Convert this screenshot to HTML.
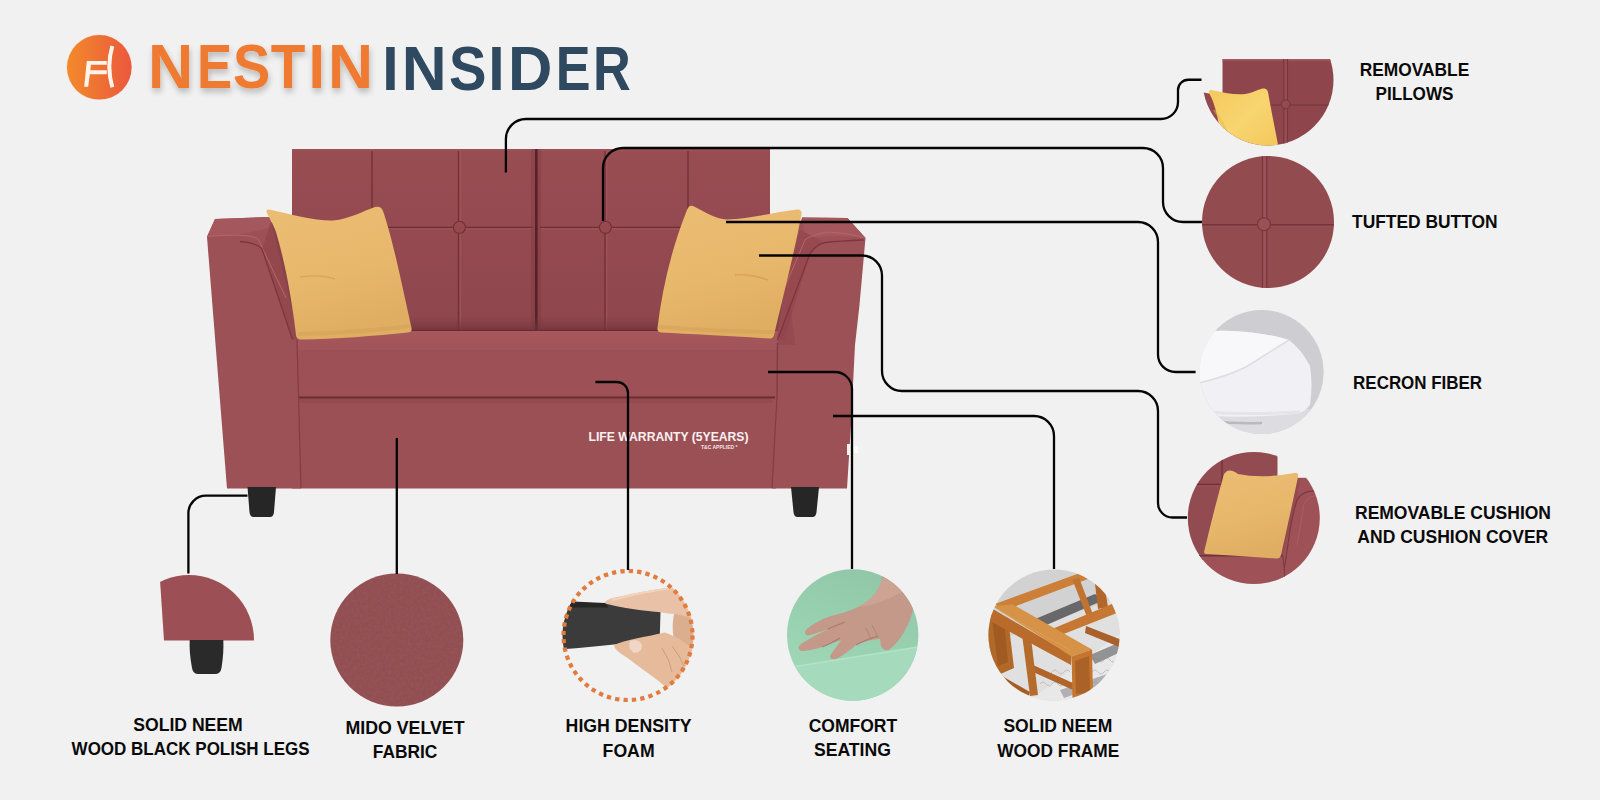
<!DOCTYPE html>
<html>
<head>
<meta charset="utf-8">
<style>
html,body{margin:0;padding:0;}
body{width:1600px;height:800px;overflow:hidden;background:#f1f1f1;position:relative;font-family:"Liberation Sans",sans-serif;}
svg{position:absolute;left:0;top:0;}
.lbl{font-family:"Liberation Sans",sans-serif;font-weight:bold;font-size:18.2px;fill:#0a0a0a;}
</style>
</head>
<body>
<svg width="1600" height="800" viewBox="0 0 1600 800">
<defs>
  <linearGradient id="logoG" x1="0" y1="0" x2="1" y2="0">
    <stop offset="0" stop-color="#f38a2b"/>
    <stop offset="1" stop-color="#ea583d"/>
  </linearGradient>
  <filter id="tshadow" x="-10%" y="-20%" width="120%" height="150%">
    <feGaussianBlur in="SourceAlpha" stdDeviation="3.2"/>
    <feOffset dx="1" dy="3.5" result="b"/>
    <feComponentTransfer><feFuncA type="linear" slope="0.24"/></feComponentTransfer>
    <feMerge><feMergeNode/><feMergeNode in="SourceGraphic"/></feMerge>
  </filter>
</defs>

<!-- LOGO -->
<g id="logo">
  <circle cx="99.3" cy="67.3" r="32.8" fill="#fbd9c0" opacity="0.6"/>
  <circle cx="99.3" cy="67.3" r="32.3" fill="url(#logoG)"/>
  <path d="M84.2,86.8 L88.2,86.8 L89.8,74.2 L106.8,74.2 L106.8,70.3 L90.3,70.3 L91,64.8 L106.8,64.8 L106.8,61 L86.8,61 Z" fill="#fff4ec"/>
  <path d="M112.3,46 Q106.3,66.5 112.3,87.2" fill="none" stroke="#fff4ec" stroke-width="4"/>
</g>
<g filter="url(#tshadow)" font-family="Liberation Sans" font-weight="bold" fill="#ef7a33">
<text transform="translate(147.91,87.9) scale(0.9810,1)" font-size="63.81">N</text>
<text transform="translate(196.97,87.9) scale(0.8268,1)" font-size="63.81">E</text>
<text transform="translate(232.99,87.9) scale(0.8763,1)" font-size="63.81">S</text>
<text transform="translate(270.86,87.9) scale(0.8889,1)" font-size="63.81">T</text>
<text transform="translate(308.41,87.9) scale(0.9357,1)" font-size="63.81">I</text>
<text transform="translate(328.12,87.9) scale(0.9783,1)" font-size="63.81">N</text>
</g>
<g font-family="Liberation Sans" font-weight="bold" fill="#2e4960">
<text transform="translate(382.15,89.8) scale(0.9290,1)" font-size="63.52">I</text>
<text transform="translate(401.84,89.8) scale(0.9788,1)" font-size="63.52">N</text>
<text transform="translate(449.08,89.8) scale(0.8856,1)" font-size="63.52">S</text>
<text transform="translate(488.15,89.8) scale(0.9290,1)" font-size="63.52">I</text>
<text transform="translate(507.89,89.8) scale(0.9678,1)" font-size="63.52">D</text>
<text transform="translate(555.81,89.8) scale(0.8222,1)" font-size="63.52">E</text>
<text transform="translate(593.00,89.8) scale(0.8234,1)" font-size="63.52">R</text>
</g>

<!-- SOFA placeholder -->

<g id="sofa">
  <defs>
    <linearGradient id="backG" x1="0" y1="0" x2="0" y2="1">
      <stop offset="0" stop-color="#984d53"/>
      <stop offset="0.5" stop-color="#93494f"/>
      <stop offset="1" stop-color="#8d454c"/>
    </linearGradient>
    <linearGradient id="seatTopG" x1="0" y1="0" x2="0" y2="1">
      <stop offset="0" stop-color="#a7585d"/>
      <stop offset="1" stop-color="#a05358"/>
    </linearGradient>
    <linearGradient id="backShadeG" x1="0" y1="0" x2="0" y2="1">
      <stop offset="0" stop-color="#7a3a40" stop-opacity="0"/>
      <stop offset="1" stop-color="#6e3238" stop-opacity="0.8"/>
    </linearGradient>
    <linearGradient id="pilG" x1="0" y1="0" x2="0.3" y2="1">
      <stop offset="0" stop-color="#ebbd72"/>
      <stop offset="0.6" stop-color="#e7b76c"/>
      <stop offset="1" stop-color="#dfae62"/>
    </linearGradient>
  </defs>
  <!-- back panel -->
  <rect x="262" y="222" width="545" height="127" fill="#8a424a"/>
  <rect x="292" y="149" width="478" height="200" fill="url(#backG)"/>
  <rect x="292" y="149" width="478" height="2" fill="#a05359" opacity="0.7"/>
  <!-- back seams -->
  <g stroke="#6f3037" stroke-width="1.3" fill="none">
    <path d="M372,151 V330"/>
    <path d="M458.5,151 V330"/>
    <path d="M605,151 V330"/>
    <path d="M688,151 V330"/>
    <path d="M300,227.3 H533 M540,227.3 H765"/>
  </g>
  <g stroke="#a95b61" stroke-width="0.9" fill="none" opacity="0.8">
    <path d="M460.3,151 V330"/>
    <path d="M606.8,151 V330"/>
    <path d="M300,229 H533 M540,229 H765"/>
  </g>
  <rect x="531" y="149" width="10" height="182" fill="#7a363d" opacity="0.35"/>
  <rect x="535" y="149" width="2.6" height="182" fill="#55222a"/>
  <rect x="292" y="316" width="478" height="15" fill="url(#backShadeG)"/>
  <path d="M292,330.5 H770" stroke="#6a2c33" stroke-width="1.5"/>
  <circle cx="459.4" cy="227.3" r="6" fill="#96494f" stroke="#6f3037" stroke-width="1.1"/>
  <circle cx="605.4" cy="227.3" r="6" fill="#96494f" stroke="#6f3037" stroke-width="1.1"/>

  <!-- seat cushion -->
  <rect x="290" y="331" width="492" height="66" fill="#9d5156"/>
  <rect x="294" y="331" width="484" height="18" fill="url(#seatTopG)"/>
  <path d="M296,349 H776" stroke="#a9595e" stroke-width="1" opacity="0.8"/>
  <!-- base -->
  <rect x="292" y="397" width="484" height="91.5" fill="#9b5055"/>
  <path d="M294,397.5 H778" stroke="#6a2d33" stroke-width="2.2"/>
  <rect x="300" y="399" width="472" height="4" fill="#8e434a" opacity="0.5"/>

  <!-- left arm -->
  <path d="M215,219 L270,217 L297,340 L301,488.5 L227,488.5 L207,237 Z" fill="#9c5156"/>
  <path d="M215,219 L270,217 L272,226 Q262,233 207,236.5 Z" fill="#a4585d"/>
  <path d="M262,249 L292.5,339.5 L299,339.5 L271,221 Q266,238 262,249 Z" fill="#93484e"/>
  <path d="M207,236.5 Q250,233 258,239 L286,298" fill="none" stroke="#b7656b" stroke-width="1"/>
  <path d="M240,241.5 Q257,243 262,249 L292.5,339.5" fill="none" stroke="#7d363d" stroke-width="1.3"/>
  <path d="M297,340 L301,488" stroke="#843c43" stroke-width="1.2"/>

  <!-- right arm -->
  <path d="M802,217.5 L847.5,218 L865.5,238 L859.5,305 L855,345 L851,425 L847,488.5 L772,488.5 L777,340 Q786,270 802,217.5 Z" fill="#9c5156"/>
  <path d="M802,217.5 L847.5,218 L865.5,238 Q830,233 806,240 Z" fill="#a4585d"/>
  <path d="M777,340 L784,340 L810,253.75 Q818,243 825,242.5 L800,230 Q786,270 777,340 Z" fill="#96494f"/>
  <path d="M777,345 L790,300 L795,345 Z" fill="#8a4349" opacity="0.5"/>
  <path d="M865,237.5 Q830,230 822,233 Q810,236 805,240 L785,287" fill="none" stroke="#b7656b" stroke-width="1"/>
  <path d="M863.75,240 Q838,241 825,242.5 Q815,245 810,253.75 L777.5,340" fill="none" stroke="#7d363d" stroke-width="1.3"/>
  <path d="M772,488 L777,397" stroke="#843c43" stroke-width="1.2"/>
  <path d="M777.5,343 L777,397" stroke="#7d3a40" stroke-width="1.2"/>

  <!-- legs -->
  <path d="M247.5,487 H276 L274,512 Q273.5,517 270,517 H253.5 Q250,517 249.5,512 Z" fill="#262626"/>
  <path d="M791,487 H819 L816.5,512 Q816,517 812.5,517 H797.5 Q794,517 793.5,512 Z" fill="#262626"/>

  <!-- left pillow -->
  <path d="M269,209.5 C290,214 315,221 333,220.5 C350,219 363,211 375,207 Q381,205.5 383,211 C393,240 402,285 411.5,328 Q412.5,332 408,332.5 C375,336 335,339 301,339.5 Q296.5,339.5 296,335 C292,300 285,262 276,232 C273,223 268,216 266.5,212 Q266,209 269,209.5 Z" fill="url(#pilG)"/>
  <path d="M298,334 C340,333 380,330 411,326" stroke="#cf9c4d" stroke-width="4" fill="none" opacity="0.35"/>
  <path d="M300,277 Q320,274 335,279" stroke="#c99649" stroke-width="1.5" fill="none" opacity="0.5"/>
  <!-- right pillow -->
  <path d="M693,206 C705,212 715,219 727,219.5 C750,219 775,212 797,209.5 Q802,209 801.5,214 C797,240 786,285 774,335 Q773,339 769,338.5 C730,336 690,334 661,332.5 Q657,332 657.5,328 C662,290 671,250 687,210 Q689,204.5 693,206 Z" fill="url(#pilG)"/>
  <path d="M659,327 C700,330 740,332 775,332" stroke="#cf9c4d" stroke-width="4" fill="none" opacity="0.35"/>
  <path d="M735,275 Q752,274 768,280" stroke="#c99649" stroke-width="1.5" fill="none" opacity="0.5"/>

  <!-- warranty text -->
  <text x="588.5" y="441.3" font-family="Liberation Sans" font-weight="bold" font-size="12.8" fill="#fbf2f2" textLength="160" lengthAdjust="spacingAndGlyphs">LIFE WARRANTY (5YEARS)</text>
  <text x="701" y="449.2" font-family="Liberation Sans" font-weight="bold" font-size="5.8" fill="#f4e3e4" textLength="36.5" lengthAdjust="spacingAndGlyphs">T&amp;C APPLIED *</text>
  <path d="M847,444 H853 V455 H847 Z" fill="#f6f2f2"/><path d="M854,446 H858 V453 H854 Z" fill="#ffffff" opacity="0.8"/>
</g>

<!-- CIRCLES placeholder -->
<g id="circles">
  <defs>
    <clipPath id="cp1"><path d="M1202.5,80 A65.5,65.5 0 0 0 1333.5,80 A65.5,65.5 0 0 0 1202.5,80 Z M1190,59 H1345 V0 H1190 Z" clip-rule="nonzero"/></clipPath>
    <clipPath id="cp1b"><rect x="1190" y="59" width="160" height="100"/></clipPath>
    <clipPath id="cp2"><circle cx="1268" cy="222" r="66"/></clipPath>
    <clipPath id="cp3"><circle cx="1261.6" cy="372" r="62"/></clipPath>
    <clipPath id="cp4"><circle cx="1253.8" cy="518" r="66"/></clipPath>
    <clipPath id="cp5"><circle cx="189" cy="640" r="65"/></clipPath>
    <clipPath id="cp7"><circle cx="628" cy="635.5" r="65.5"/></clipPath>
    <clipPath id="cp8"><circle cx="852.7" cy="635" r="65.7"/></clipPath>
    <clipPath id="cp9"><circle cx="1054" cy="635" r="65.6"/></clipPath>
    <linearGradient id="greenG" x1="0.7" y1="0" x2="0.3" y2="1">
      <stop offset="0" stop-color="#90c6a7"/>
      <stop offset="0.5" stop-color="#98d1b0"/>
      <stop offset="1" stop-color="#a2d9b9"/>
    </linearGradient>
    <linearGradient id="yelG" x1="0" y1="0" x2="1" y2="1">
      <stop offset="0" stop-color="#f4c85c"/>
      <stop offset="0.5" stop-color="#f8d570"/>
      <stop offset="1" stop-color="#f2c65a"/>
    </linearGradient>
    <linearGradient id="fibG" x1="0" y1="0" x2="1" y2="1">
      <stop offset="0" stop-color="#c9c9cd"/>
      <stop offset="1" stop-color="#dcdce0"/>
    </linearGradient>
    <linearGradient id="skinG" x1="0" y1="0" x2="1" y2="1">
      <stop offset="0" stop-color="#d9a58e"/>
      <stop offset="1" stop-color="#c08472"/>
    </linearGradient>
  </defs>

  <!-- 1 removable pillows -->
  <clipPath id="cp1"><circle cx="1268" cy="80" r="65.5"/></clipPath>
  <g clip-path="url(#cp1b)"><g clip-path="url(#cp1)">
    <rect x="1222.5" y="59.3" width="115" height="90" fill="#8f454c"/>
    <rect x="1222.5" y="59.3" width="115" height="2" fill="#9d5056"/>
    <path d="M1222.5,105 H1340" stroke="#74363c" stroke-width="1.2"/>
    <path d="M1283.8,59 V150 M1287.6,59 V150" stroke="#74363c" stroke-width="1"/>
    <path d="M1285.7,59 V150" stroke="#9a5056" stroke-width="1.8"/>
    <circle cx="1285.7" cy="104.3" r="4.4" fill="#944b51" stroke="#74363c" stroke-width="1"/>
    <path d="M1200,92 L1212,94 L1232,150 L1200,150 Z" fill="#93484e"/>
    <path d="M1211,90 C1225,93 1240,96 1250,93 C1256,91 1260,88.5 1264,88.5 Q1267,88.5 1268,92 C1271,110 1275,128 1279,150 L1222,150 C1220,125 1216,105 1209,93 Q1208,90 1211,90 Z" fill="url(#yelG)"/>
    <path d="M1214,110 Q1225,125 1235,150" stroke="#e6b24a" stroke-width="2" fill="none" opacity="0.5"/>
  </g></g>

  <!-- 2 tufted button -->
  <g clip-path="url(#cp2)">
    <rect x="1200" y="155" width="136" height="134" fill="#924c50"/>
    <path d="M1200,224.8 H1336" stroke="#74363c" stroke-width="1.4"/>
    <path d="M1200,226.6 H1336" stroke="#a05459" stroke-width="0.8" opacity="0.6"/>
    <path d="M1262.4,155 V289 M1266.8,155 V289" stroke="#74363c" stroke-width="1.1"/>
    <path d="M1264.6,155 V289" stroke="#9c5257" stroke-width="2.2"/>
    <circle cx="1264" cy="224.3" r="6.5" fill="#985156" stroke="#74363c" stroke-width="1.1"/>
  </g>

  <!-- 3 recron fiber -->
  <g clip-path="url(#cp3)">
    <rect x="1195" y="305" width="135" height="135" fill="#cdcdd2"/>
    <path d="M1195,420 Q1250,412 1330,408 V440 H1195 Z" fill="#dcdce1"/>
    <path d="M1199,333 Q1214,329 1246,332 Q1274,335 1289,340 Q1302,350 1310,366 Q1313,384 1310,405 Q1304,413 1295,414 Q1250,418 1205,416 L1199,410 Z" fill="#f1f1f5"/>
    <path d="M1199,333 Q1214,329 1246,332 Q1274,335 1289,340 Q1270,352 1246,367 Q1225,377 1199,383 Z" fill="#f8f8fb"/>
    <path d="M1199,383 Q1225,377 1246,367 Q1270,352 1289,340" stroke="#dcdce2" stroke-width="1.5" fill="none"/>
    <path d="M1205,412 Q1250,415 1300,412" stroke="#e4e4e9" stroke-width="3" fill="none"/>
    <path d="M1212,421 Q1235,424 1262,423" stroke="#9d9da3" stroke-width="2.5" fill="none" opacity="0.55"/>
  </g>

  <!-- 4 removable cushion -->
  <g clip-path="url(#cp4)">
    <rect x="1185" y="450" width="92.5" height="110" fill="#924b50"/>
    <path d="M1185,484.4 H1225" stroke="#703238" stroke-width="1.3"/>
    <path d="M1222,450 V484.4" stroke="#703238" stroke-width="1.3"/>
    <path d="M1185,486.2 H1225" stroke="#a3575c" stroke-width="0.8" opacity="0.7"/>
    <path d="M1277.5,478 L1307,477.8 Q1318,480 1322,492 L1322,595 L1270,595 L1283,556 Z" fill="#9e5257"/>
    <path d="M1283,556 L1292,520 Q1298,500 1300,478 L1290,478 L1280,556 Z" fill="#944a50"/>
    <path d="M1318,491 Q1302,490 1297,500 Q1293,512 1290,530 L1282,585" stroke="#7a3a40" stroke-width="1.2" fill="none"/>
    <path d="M1322,496 Q1309,494 1304,504 L1297,545" stroke="#ad6166" stroke-width="1" fill="none" opacity="0.8"/>
    <path d="M1185,555 H1283 L1287,595 H1185 Z" fill="#9e5257"/>
    <path d="M1185,555.8 H1283" stroke="#703238" stroke-width="1.4"/>
    <path d="M1283,556 L1286.5,595" stroke="#7a3a40" stroke-width="1"/>
    <path d="M1227,471 Q1232,469 1238,474 Q1262,479 1294,473 Q1299,472 1298,477 Q1290,515 1281,555 Q1280,559 1276,558.5 Q1240,556 1207,554 Q1203,554 1204.5,550 Q1214,510 1224,474 Z" fill="url(#pilG)"/>
  </g>

  <!-- 5 legs -->
  <g clip-path="url(#cp5)">
    <path d="M160,580 L164,640.5 H260 V560 H160 Z" fill="#9c5055"/>
  </g>
  <path d="M189.7,640 H223.3 Q224,652 221.5,668 Q220.5,674 215,674 H198.5 Q193,674 192,668 Q189,652 189.7,640 Z" fill="#2a2a2a"/>

  <!-- 6 velvet -->
  <filter id="velv" x="0" y="0" width="100%" height="100%">
    <feTurbulence type="fractalNoise" baseFrequency="0.35" numOctaves="2" seed="3" result="n"/>
    <feColorMatrix in="n" type="matrix" values="0 0 0 0 0.35  0 0 0 0 0.15  0 0 0 0 0.17  0 0 0 -1.4 0.9" result="c"/>
    <feComposite in="c" in2="SourceGraphic" operator="in"/>
  </filter>
  <circle cx="396.8" cy="640" r="66.5" fill="#924f52"/>
  <circle cx="396.8" cy="640" r="66.5" fill="#000" filter="url(#velv)" opacity="0.3"/>

  <!-- 7 foam -->
    <g clip-path="url(#cp7)">
    <path d="M674,614 C684,612 694,614 700,618 L700,660 C694,652 684,646 676,646 C672,636 672,624 674,614 Z" fill="#dcae90"/>
    <path d="M609.5,607.75 Q602,606 605,602 Q608,598 620,596.5 C635,593 650,590 665,588.25 L700,585 L700,622 C690,617 680,614 668,613.5 L660.5,612.25 C640,610 625,609 609.5,607.75 Z" fill="#e8c1a6"/>
    <path d="M612,600 C630,595 650,591 672,588" stroke="#f2d3bf" stroke-width="2.2" fill="none"/>
    <path d="M560,602 L605,603.5 C625,609 640,610 660.5,612.25 L659.75,637.75 C645,640 630,642 614,644.5 C597,646 580,648 560,649.5 Z" fill="#3b3b3b"/>
    <path d="M560,601 L605,603 Q607,605 608,607.5 L560,607.5 Z" fill="#262626"/>
    <path d="M614,645 C625,640 645,637 665,632.5 C685,640 695,650 700,660 L700,700 L680,700 C660,680 640,668 627.5,658 Q614,650 614,645 Z" fill="#e6bb9c"/>
    <path d="M630,641 Q638,638 642,645 Q642,653 634,653 Q627,648 630,641 Z" fill="#f0d6c6"/>
    <path d="M662,648 Q670,660 672,672 M672,646 Q680,656 684,666" stroke="#c89576" stroke-width="1" fill="none" opacity="0.8"/>
  </g>

  <circle cx="628" cy="635.5" r="64.5" fill="none" stroke="#e07c3d" stroke-width="4.2" stroke-dasharray="4.3 4.15"/>

  <!-- 8 comfort -->
  <g clip-path="url(#cp8)">
    <rect x="785" y="568" width="136" height="136" fill="url(#greenG)"/>
    <path d="M785,668 L918,647 L921,705 L785,705 Z" fill="#a5dbbc"/>
    <path d="M785,668 L918,647" stroke="#b3e3c6" stroke-width="1.5"/>
    <path d="M882,578 C880,590 872,600 858,607 C848,612 838,614 831,616 C822,619 812,624 806,630 Q803,634 808,635.5 C815,634 822,631 828,629 C820,633 810,638 801,644 Q796,648 801,651 C808,651 815,649 822,647 C832,643 838,641 841,640 C838,645 833,651 830,656 Q830,660 836,659 C843,656 850,650 856,645 C866,641 874,639 880,639 L881,646 Q883,651 889,650 C895,645 901,638 904,632 C908,625 912,617 914,605 L922,590 L922,568 L884,568 Z" fill="#c4998a"/>
    <path d="M882,578 C880,590 872,600 858,607 C870,606 890,600 905,590 L912,575 Z" fill="#cfa596" opacity="0.8"/>
    <path d="M828,629 Q835,626 845,622 M822,647 Q830,644 840,638 M856,645 Q865,640 878,636" stroke="#a87264" stroke-width="1.3" fill="none" opacity="0.8"/>
    <path d="M872,625 Q876,632 878,638 M866,628 Q869,634 871,640" stroke="#b08070" stroke-width="0.8" fill="none"/>
  </g>

  <!-- 9 wood frame -->
  <g clip-path="url(#cp9)">
    <rect x="985" y="565" width="140" height="140" fill="#d2d2d3"/>
    <path d="M985,645 L1125,595 L1125,705 L985,705 Z" fill="#e0e0e1"/>
    <path d="M1030,700 L1125,630 L1125,705 Z" fill="#e8e8e9"/>
    <g stroke="#b4b4b8" stroke-width="1" fill="none" opacity="0.8">
      <path d="M1040,672 q3,-4 6,0 q3,4 6,0 q3,-4 6,0 q3,4 6,0 q3,-4 6,0"/>
      <path d="M1092,660 q3,-4 6,0 q3,4 6,0 q3,-4 6,0 q3,4 6,0 q3,-4 6,0"/>
      <path d="M1092,672 q3,-4 6,0 q3,4 6,0 q3,-4 6,0 q3,4 6,0 q3,-4 6,0"/>
      <path d="M1040,684 q3,-4 6,0 q3,4 6,0 q3,-4 6,0 q3,4 6,0 q3,-4 6,0"/>
      <path d="M1092,684 q3,-4 6,0 q3,4 6,0 q3,-4 6,0"/>
    </g>
    <path d="M1028,622 L1095,594 L1104,600 L1035,630 Z" fill="#68686a"/>
    <path d="M1090,655 L1125,640 L1125,650 L1095,664 Z" fill="#7d7d80" opacity="0.8"/>
    <path d="M1060,690 L1125,668 L1125,676 L1064,698 Z" fill="#8a8a8d" opacity="0.6"/>
    <path d="M1095,584 L1104,583 L1108,607 L1098,609 Z" fill="#b2662a"/>
    <path d="M995,604 L1080,573 L1088,579 L1003,611 Z" fill="#cc7f38"/>
    <path d="M1072.5,580 L1079,577.5 L1093,614.5 L1087,617 Z" fill="#c17432"/>
    <path d="M1052,629 L1113,603.5 L1117,613 L1056,637 Z" fill="#c67833"/>
    <path d="M1086,626 L1122,640 L1122,648 L1085,633 Z" fill="#a9602a"/>
    <path d="M986,612 L1008,618 L1014,668 L996,676 L986,672 Z" fill="#b26828"/>
    <path d="M992,618 L1004,621 L1008,662 L998,666 Z" fill="#9a5420" opacity="0.7"/>
    <path d="M1033,665 L1073,683 L1073,690 L1033,672 Z" fill="#b0662a"/>
    <path d="M995,672 L1030,692 L1028,699 L993,680 Z" fill="#a65d24"/>
    <path d="M1022.5,638 L1031,638 L1038,695 L1030,696 Z" fill="#b56b2c"/>
    <path d="M991,608 L1071.6,655 L1071,665 L988,620 Z" fill="#b86b2b"/>
    <path d="M992.5,606 L1013,604.5 L1092,649.5 L1071.6,656.5 Z" fill="#d69247"/>
    <path d="M1071.6,656.5 L1092,649.5 L1093,696 L1072.5,698 Z" fill="#c47530"/>
    <path d="M1075,661 L1089,656 L1090,693 L1076,694 Z" fill="#9e5722" opacity="0.65"/>
    <path d="M1000,611 L1070,650" stroke="#e2a462" stroke-width="1" opacity="0.6"/>
  </g>
</g>
</g>


<!-- CALLOUT LINES -->
<g fill="none" stroke="#050505" stroke-width="2.3" stroke-linecap="butt">
  <path d="M505.9,172.6 V139 A20,20 0 0 1 525.9,119 H1161 A17,17 0 0 0 1178,102 V90 A10.25,10.25 0 0 1 1188.25,79.75 H1201.5"/>
  <path d="M603,221 V168 A20,20 0 0 1 623,148 H1143 A20,20 0 0 1 1163,168 V202 A20,20 0 0 0 1183,222 H1202"/>
  <path d="M726,222 H1138 A20,20 0 0 1 1158,242 V354.5 A17.5,17.5 0 0 0 1175.5,372 H1195.6"/>
  <path d="M759,255.5 H862 A20,20 0 0 1 882,275.5 V371 A20,20 0 0 0 902,391 H1138 A20,20 0 0 1 1158,411 V503 A14.5,14.5 0 0 0 1172.5,517.5 H1187"/>
  <path d="M247.5,495.7 H206 A17.6,17.6 0 0 0 188.4,513.3 V573.5"/>
  <path d="M396.8,438 V574"/>
  <path d="M595.4,382 H617 A11,11 0 0 1 628,393 V570"/>
  <path d="M768,372 H835 A17,17 0 0 1 852,389 V569"/>
  <path d="M833,416 H1034 A20,20 0 0 1 1054,436 V569"/>
</g>

<!-- LABELS -->
<g class="lbl" text-anchor="middle">
  <text class="lbl" x="1414.5" y="76" textLength="109.5" lengthAdjust="spacingAndGlyphs">REMOVABLE</text>
  <text class="lbl" x="1414.5" y="100" textLength="78" lengthAdjust="spacingAndGlyphs">PILLOWS</text>
  <text class="lbl" x="1424.8" y="228" textLength="145.5" lengthAdjust="spacingAndGlyphs">TUFTED BUTTON</text>
  <text class="lbl" x="1417.6" y="389" textLength="129" lengthAdjust="spacingAndGlyphs">RECRON FIBER</text>
  <text class="lbl" x="1453" y="519" textLength="196" lengthAdjust="spacingAndGlyphs">REMOVABLE CUSHION</text>
  <text class="lbl" x="1452.8" y="543" textLength="191" lengthAdjust="spacingAndGlyphs">AND CUSHION COVER</text>
  <text class="lbl" x="188" y="731" textLength="109.5" lengthAdjust="spacingAndGlyphs">SOLID NEEM</text>
  <text class="lbl" x="190.6" y="755" textLength="238" lengthAdjust="spacingAndGlyphs">WOOD BLACK POLISH LEGS</text>
  <text class="lbl" x="405" y="734" textLength="119" lengthAdjust="spacingAndGlyphs">MIDO VELVET</text>
  <text class="lbl" x="405.1" y="758" textLength="64.5" lengthAdjust="spacingAndGlyphs">FABRIC</text>
  <text class="lbl" x="628.6" y="732" textLength="126" lengthAdjust="spacingAndGlyphs">HIGH DENSITY</text>
  <text class="lbl" x="628.6" y="757" textLength="52" lengthAdjust="spacingAndGlyphs">FOAM</text>
  <text class="lbl" x="852.9" y="732" textLength="88.5" lengthAdjust="spacingAndGlyphs">COMFORT</text>
  <text class="lbl" x="852.4" y="756" textLength="77" lengthAdjust="spacingAndGlyphs">SEATING</text>
  <text class="lbl" x="1057.9" y="732" textLength="109" lengthAdjust="spacingAndGlyphs">SOLID NEEM</text>
  <text class="lbl" x="1058.3" y="757" textLength="122" lengthAdjust="spacingAndGlyphs">WOOD FRAME</text>
</g>
</svg>
</body>
</html>
